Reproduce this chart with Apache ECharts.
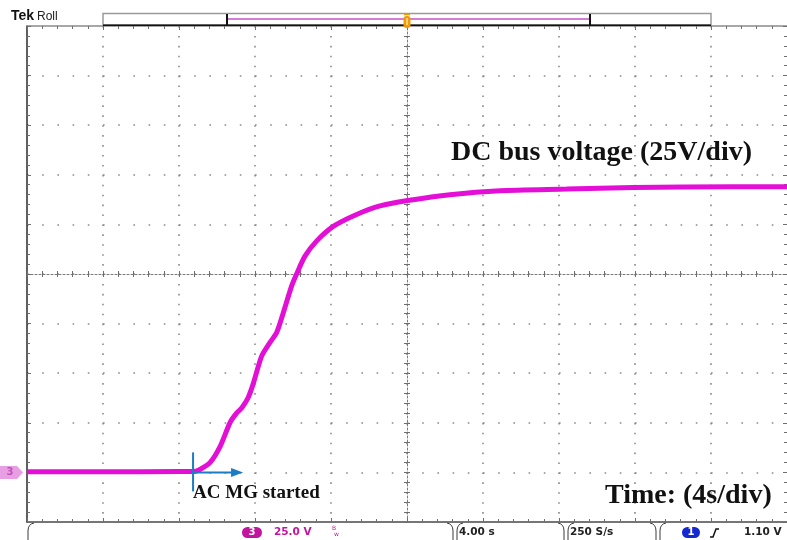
<!DOCTYPE html>
<html>
<head>
<meta charset="utf-8">
<script src="https://cdn.jsdelivr.net/npm/echarts@6/dist/echarts.min.js"></script>
<style>
  html, body { margin: 0; padding: 0; background: #ffffff; }
  #scope { width: 787px; height: 540px; }
</style>
</head>
<body>
<div id="scope"></div>
<script>
// Channel 3 capture: DC bus voltage while the AC MG starts (roll mode)
const timeSec  = [0, 4, 8, 8.74, 9.1, 9.63, 10.16, 10.68, 11.0, 11.3, 11.63, 11.9, 12.35, 12.79, 13.14, 13.49, 13.93, 14.19, 14.63, 15.25, 16.12, 17.35, 18.58, 20.04, 22.26, 24.89, 28.4, 31.9, 37.16, 40];
const busVolts = [0.3, 0.3, 0.4, 0.4, 1.5, 4.9, 13, 25, 29.5, 32.5, 37.5, 44.5, 58.6, 65.5, 70.5, 80.5, 94, 100, 109, 116.7, 124, 130, 134.3, 137, 140, 142, 142.8, 143.6, 144, 144];

// Graticule: 4 s/div across, 25 V/div up, ground one division above the bottom edge
const timeRange = [0, 40];
const timeStep = 4;
const voltRange = [-25, 225];
const voltStep = 25;
const startTime = 8.74;   // instant the AC MG was started

// Status bar readouts
const chLabel = '3';
const chScale = '25.0 V';
const timeScale = '4.00 s';
const sampleRate = '250 S/s';
const trigSource = '1';
const trigLevel = '1.10 V';

const chart = echarts.init(document.getElementById('scope'), null, { renderer: 'canvas', width: 787, height: 540 });

const dotGrey = '#8a8a8a';
const tickGrey = '#6e6e6e';

function borderAxis(extra) {
  return Object.assign({
    type: 'value',
    axisLabel: { show: false },
    axisTick: { show: true, inside: true, length: 4, lineStyle: { color: tickGrey, width: 1 } },
    minorTick: { show: true, splitNumber: 5, length: 3, lineStyle: { color: tickGrey, width: 1 } },
    splitLine: { show: false },
    minorSplitLine: { show: false }
  }, extra);
}
function centreAxis(extra) {
  return Object.assign({
    type: 'value',
    gridIndex: 1,
    axisLabel: { show: false },
    axisTick: { show: true, inside: false, length: 3, lineStyle: { color: tickGrey, width: 1 } },
    minorTick: { show: true, splitNumber: 5, length: 3, lineStyle: { color: tickGrey, width: 1 } },
    splitLine: { show: false }
  }, extra);
}

const series = timeSec.map((t, i) => [t, busVolts[i]]);

chart.setOption({
  animation: false,
  backgroundColor: '#ffffff',
  grid: [
    { left: 27, top: 26, right: 0, bottom: 18, containLabel: false, outerBoundsMode: 'none' },
    { left: 27, top: 26, right: 0, bottom: 18, containLabel: false, outerBoundsMode: 'none' }
  ],
  xAxis: [
    borderAxis({
      gridIndex: 0, position: 'bottom', min: timeRange[0], max: timeRange[1], interval: timeStep,
      axisLine: { show: true, onZero: false, lineStyle: { color: '#4a4a4a', width: 1.5 } },
      splitLine: { show: true, showMinLine: false, showMaxLine: false, lineStyle: { color: dotGrey, width: 1.6, type: [1.6, 8.32] } }
    }),
    borderAxis({
      gridIndex: 0, position: 'top', min: timeRange[0], max: timeRange[1], interval: timeStep,
      axisLine: { show: true, onZero: false, lineStyle: { color: '#8a8a8a', width: 1.5 } }
    }),
    centreAxis({
      position: 'bottom', min: -timeRange[1] / 2, max: timeRange[1] / 2, interval: timeStep,
      axisLine: { show: true, onZero: true, lineStyle: { color: '#7a7a7a', width: 1, type: [2, 2] } }
    }),
    centreAxis({
      position: 'top', min: -timeRange[1] / 2, max: timeRange[1] / 2, interval: timeStep,
      axisLine: { show: false, onZero: true }
    })
  ],
  yAxis: [
    borderAxis({
      gridIndex: 0, position: 'left', min: voltRange[0], max: voltRange[1], interval: voltStep,
      axisLine: { show: true, onZero: false, lineStyle: { color: '#2a2a2a', width: 1.5 } },
      splitLine: { show: true, showMinLine: false, showMaxLine: false, lineStyle: { color: dotGrey, width: 1.6, type: [1.6, 13.6] } }
    }),
    borderAxis({
      gridIndex: 0, position: 'right', min: voltRange[0], max: voltRange[1], interval: voltStep,
      axisLine: { show: false, onZero: false }
    }),
    centreAxis({
      position: 'left', min: -5, max: 5, interval: 1,
      axisLine: { show: true, onZero: true, lineStyle: { color: '#7a7a7a', width: 1, type: [2, 2] } }
    }),
    centreAxis({
      position: 'right', min: -5, max: 5, interval: 1,
      axisLine: { show: false, onZero: true }
    })
  ],
  series: [{
    name: 'DC bus voltage',
    type: 'line',
    xAxisIndex: 0,
    yAxisIndex: 0,
    data: series,
    showSymbol: false,
    smooth: 0.25,
    lineStyle: { color: '#e30fd6', width: 5 },
    z: 5
  }]
});

// Decorations placed against the data scales
const groundPx = chart.convertToPixel({ gridIndex: 0 }, [0, 0]);
const startPx = chart.convertToPixel({ gridIndex: 0 }, [startTime, 0]);
const trigPx = chart.convertToPixel({ gridIndex: 0 }, [timeRange[1] / 2, voltRange[1]]);

const serif = '"Liberation Serif", "Times New Roman", serif';
const sans = '"DejaVu Sans", Verdana, sans-serif';
const magenta = '#c2149f';

const g = [];
// Header
g.push({ type: 'text', x: 11, y: 9, style: { text: 'Tek', font: 'bold 14px "Liberation Sans", Arial, sans-serif', fill: '#111', verticalAlign: 'top' } });
g.push({ type: 'text', x: 37, y: 11, style: { text: 'Roll', font: '12px "Liberation Sans", Arial, sans-serif', fill: '#222', verticalAlign: 'top' } });
// Record-length bar with the on-screen window and trigger marker
g.push({ type: 'rect', shape: { x: 103, y: 13.5, width: 608, height: 11.5 }, style: { fill: '#fff', stroke: '#9a9a9a', lineWidth: 1.5 }, z: 10 });
g.push({ type: 'line', shape: { x1: 103, y1: 25.2, x2: 711, y2: 25.2 }, style: { stroke: '#111', lineWidth: 1.5 }, z: 11 });
g.push({ type: 'line', shape: { x1: 227, y1: 19, x2: 590, y2: 19 }, style: { stroke: '#c652c6', lineWidth: 1.5 }, z: 11 });
g.push({ type: 'line', shape: { x1: 227, y1: 14, x2: 227, y2: 25 }, style: { stroke: '#111', lineWidth: 2 }, z: 12 });
g.push({ type: 'line', shape: { x1: 590, y1: 14, x2: 590, y2: 25 }, style: { stroke: '#111', lineWidth: 2 }, z: 12 });
g.push({ type: 'line', shape: { x1: trigPx[0] - 3, y1: 14.5, x2: trigPx[0] + 3, y2: 14.5 }, style: { stroke: '#f29a00', lineWidth: 1.5 }, z: 13 });
g.push({ type: 'rect', shape: { x: trigPx[0] - 3.5, y: 16, width: 7, height: 12, r: 3 }, style: { fill: '#f29a00' }, z: 13 });
g.push({ type: 'line', shape: { x1: trigPx[0], y1: 18, x2: trigPx[0], y2: 25 }, style: { stroke: '#ffe2a0', lineWidth: 1.5 }, z: 14 });

// Channel 3 ground marker
g.push({ type: 'polygon', shape: { points: [[0, groundPx[1] - 6.5], [17, groundPx[1] - 6.5], [23, groundPx[1]], [17, groundPx[1] + 6.5], [0, groundPx[1] + 6.5]] }, style: { fill: '#e89ee2' }, z: 10 });
g.push({ type: 'text', x: 10, y: groundPx[1] + 0.5, style: { text: chLabel, font: 'bold 10px ' + sans, fill: '#c152b4', align: 'center', verticalAlign: 'middle' }, z: 11 });

// Start annotation
const blue = '#1b7cc4';
g.push({ type: 'line', shape: { x1: startPx[0], y1: startPx[1] - 20, x2: startPx[0], y2: startPx[1] + 19 }, style: { stroke: blue, lineWidth: 2 }, z: 20 });
g.push({ type: 'line', shape: { x1: startPx[0], y1: startPx[1], x2: startPx[0] + 40, y2: startPx[1] }, style: { stroke: blue, lineWidth: 2 }, z: 20 });
g.push({ type: 'polygon', shape: { points: [[startPx[0] + 38, startPx[1] - 4.5], [startPx[0] + 50, startPx[1]], [startPx[0] + 38, startPx[1] + 4.5]] }, style: { fill: blue }, z: 20 });
g.push({ type: 'text', x: startPx[0], y: startPx[1] + 21, style: { text: 'AC MG started', font: 'bold 19px ' + serif, fill: '#111', align: 'left', verticalAlign: 'middle' }, z: 20 });

// Annotations
g.push({ type: 'text', x: 451, y: 153, style: { text: 'DC bus voltage (25V/div)', font: 'bold 28px ' + serif, fill: '#111', align: 'left', verticalAlign: 'middle' }, z: 20 });
g.push({ type: 'text', x: 605, y: 496, style: { text: 'Time: (4s/div)', font: 'bold 28px ' + serif, fill: '#111', align: 'left', verticalAlign: 'middle' }, z: 20 });

// Status bar: bracketed readout fields hanging off the graticule edge
const boxStroke = '#3a3a3a';
function bracket(x, dir) {
  // dir = 1 opens to the right "(", dir = -1 opens to the left ")"
  g.push({ type: 'bezierCurve', shape: { x1: x + 6 * dir, y1: 523, cpx1: x, cpy1: 524, x2: x, y2: 531 }, style: { fill: 'none', stroke: boxStroke, lineWidth: 1 }, z: 10 });
  g.push({ type: 'line', shape: { x1: x, y1: 531, x2: x, y2: 545 }, style: { stroke: boxStroke, lineWidth: 1 }, z: 10 });
}
[[28, 453], [457, 564], [568, 656], [660, 800]].forEach(([a, b]) => { bracket(a, 1); bracket(b, -1); });
g.push({ type: 'rect', shape: { x: 242, y: 527, width: 20, height: 11, r: 5.5 }, style: { fill: magenta }, z: 11 });
g.push({ type: 'text', x: 252, y: 532.5, style: { text: chLabel, font: 'bold 10px ' + sans, fill: '#fff', align: 'center', verticalAlign: 'middle' }, z: 12 });
g.push({ type: 'text', x: 274, y: 532.5, style: { text: chScale, font: 'bold 10.5px ' + sans, fill: magenta, align: 'left', verticalAlign: 'middle' }, z: 12 });
g.push({ type: 'text', x: 332, y: 528.5, style: { text: 'B', font: '6px ' + sans, fill: magenta, align: 'left', verticalAlign: 'middle' }, z: 12 });
g.push({ type: 'text', x: 334, y: 534, style: { text: 'w', font: '6px ' + sans, fill: magenta, align: 'left', verticalAlign: 'middle' }, z: 12 });
g.push({ type: 'text', x: 459, y: 532.5, style: { text: timeScale, font: 'bold 10.5px ' + sans, fill: '#222', align: 'left', verticalAlign: 'middle' }, z: 12 });
g.push({ type: 'text', x: 570, y: 532.5, style: { text: sampleRate, font: 'bold 10.5px ' + sans, fill: '#222', align: 'left', verticalAlign: 'middle' }, z: 12 });
g.push({ type: 'rect', shape: { x: 682, y: 527, width: 18, height: 11, r: 5.5 }, style: { fill: '#1428d2' }, z: 11 });
g.push({ type: 'text', x: 691, y: 532.5, style: { text: trigSource, font: 'bold 10px ' + sans, fill: '#fff', align: 'center', verticalAlign: 'middle' }, z: 12 });
g.push({ type: 'polyline', shape: { points: [[710, 537], [713, 537], [716, 529], [719, 529]] }, style: { stroke: '#111', lineWidth: 1.5, fill: 'none' }, z: 12 });
g.push({ type: 'text', x: 744, y: 532.5, style: { text: trigLevel, font: 'bold 10.5px ' + sans, fill: '#222', align: 'left', verticalAlign: 'middle' }, z: 12 });

chart.setOption({ graphic: g });
</script>
</body>
</html>
